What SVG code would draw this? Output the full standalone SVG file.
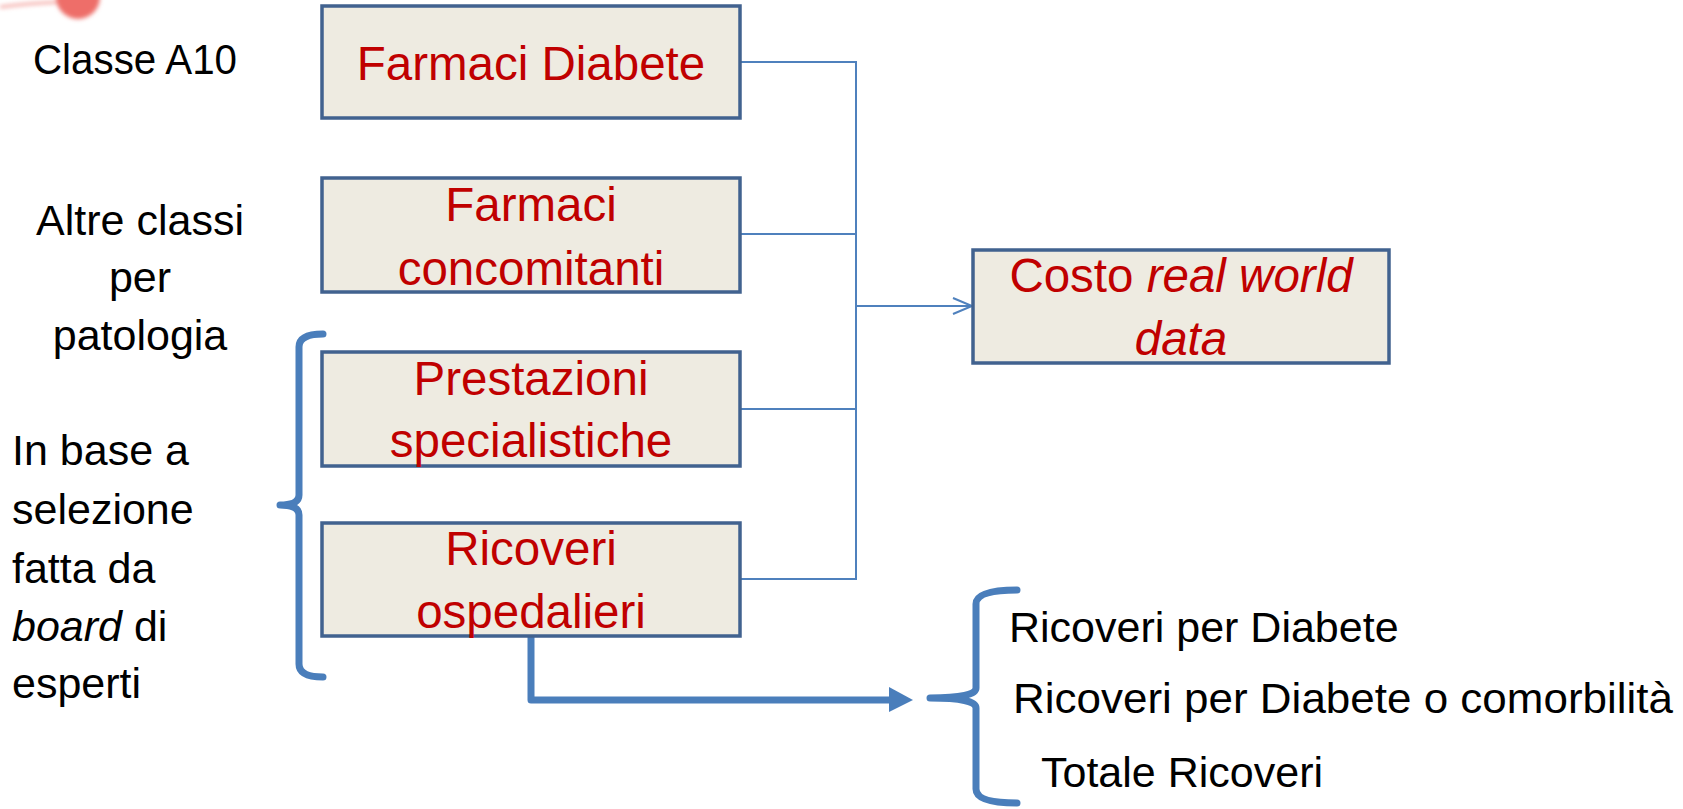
<svg xmlns="http://www.w3.org/2000/svg" width="1683" height="809" viewBox="0 0 1683 809">
<defs>
<filter id="blur" x="-50%" y="-50%" width="200%" height="200%"><feGaussianBlur stdDeviation="2"/></filter>
<marker id="chev" markerWidth="24" markerHeight="20" refX="20" refY="9" orient="auto" markerUnits="userSpaceOnUse">
<path d="M1 1 L20 9 L1 17" fill="none" stroke="#4F81BD" stroke-width="2"/>
</marker>
</defs>
<style>
.box{fill:#EEEBE1;stroke:#41628F;stroke-width:3.5}
.bt{font-family:"Liberation Sans",Arial,sans-serif;font-size:47.5px;fill:#C00000;text-anchor:middle}
.lt{font-family:"Liberation Sans",Arial,sans-serif;font-size:43px;fill:#000}
.thin{fill:none;stroke:#4F81BD;stroke-width:2}
.thick{fill:none;stroke:#4A7EBB;stroke-width:7;stroke-linecap:round;stroke-linejoin:round}
</style>
<rect width="1683" height="809" fill="#fff"/>
<g id="decor" filter="url(#blur)">
<path d="M0 7 Q30 3 62 2" fill="none" stroke="#F29A95" stroke-width="3" opacity="0.8"/>
<circle cx="78" cy="-3" r="22" fill="#EE6E69"/>
</g>
<g id="connectors">
<path class="thin" d="M741 62 H856 V579 H741"/>
<path class="thin" d="M741 234 H856"/>
<path class="thin" d="M741 409 H856"/>
<path class="thin" d="M856 306 H972" marker-end="url(#chev)"/>
<path class="thick" d="M531 637 V700 H890"/>
<polygon points="889,687 913,700 889,712" fill="#4A7EBB"/>
<path class="thick" d="M323 334 Q299 334 299 347 L299 495 Q299 505 280 505 Q299 505 299 515 L299 664 Q299 677 323 677"/>
<path class="thick" d="M1017 590 Q976 590 976 604 L976 688 Q976 698 930 698 Q976 698 976 708 L976 789 Q976 803 1017 803"/>
</g>
<g id="n-farmaci-diabete">
<rect class="box" x="322" y="6" width="418" height="112"/>
<text class="bt" x="531" y="80">Farmaci Diabete</text>
</g>
<g id="n-farmaci-concomitanti">
<rect class="box" x="322" y="178" width="418" height="114"/>
<text class="bt" x="531" y="221">Farmaci</text>
<text class="bt" x="531" y="285">concomitanti</text>
</g>
<g id="n-prestazioni">
<rect class="box" x="322" y="352" width="418" height="114"/>
<text class="bt" x="531" y="395">Prestazioni</text>
<text class="bt" x="531" y="457">specialistiche</text>
</g>
<g id="n-ricoveri">
<rect class="box" x="322" y="523" width="418" height="113"/>
<text class="bt" x="531" y="565">Ricoveri</text>
<text class="bt" x="531" y="628">ospedalieri</text>
</g>
<g id="n-costo">
<rect class="box" x="973" y="250" width="416" height="113"/>
<text class="bt" x="1181" y="292">Costo <tspan font-style="italic">real world</tspan></text>
<text class="bt" x="1181" y="355" font-style="italic">data</text>
</g>
<g id="labels-left">
<text class="lt" x="33" y="74" textLength="204" lengthAdjust="spacingAndGlyphs">Classe A10</text>
<text class="lt" x="140" y="235" text-anchor="middle">Altre classi</text>
<text class="lt" x="140" y="292" text-anchor="middle">per</text>
<text class="lt" x="140" y="350" text-anchor="middle">patologia</text>
<text class="lt" x="12" y="465">In base a</text>
<text class="lt" x="12" y="524">selezione</text>
<text class="lt" x="12" y="583">fatta da</text>
<text class="lt" x="12" y="641"><tspan font-style="italic">board</tspan> di</text>
<text class="lt" x="12" y="698">esperti</text>
</g>
<g id="labels-right">
<text class="lt" x="1009" y="642">Ricoveri per Diabete</text>
<text class="lt" x="1013" y="713" textLength="660" lengthAdjust="spacingAndGlyphs">Ricoveri per Diabete o comorbilità</text>
<text class="lt" x="1041" y="787">Totale Ricoveri</text>
</g>
</svg>
